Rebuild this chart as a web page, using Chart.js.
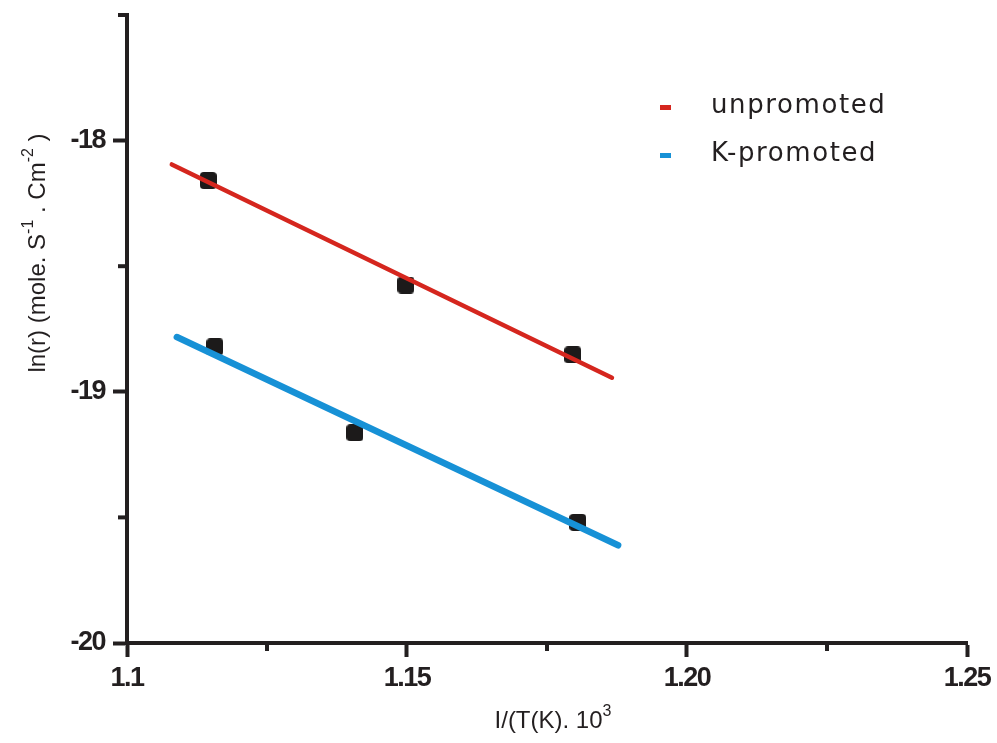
<!DOCTYPE html>
<html>
<head>
<meta charset="utf-8">
<script src="https://cdn.jsdelivr.net/npm/chart.js@4.4.1/dist/chart.umd.min.js"></script>
<style>
  html, body { margin: 0; padding: 0; background: #ffffff; }
  #wrap { width: 997px; height: 743px; }
</style>
</head>
<body>
<div id="wrap"><canvas id="arrhenius"></canvas></div>
<script>
// measured points
const xUnpromoted = [1.1145, 1.1498, 1.1796];
const yUnpromoted = [-18.159, -18.575, -18.853];
const xKPromoted = [1.1157, 1.1407, 1.1805];
const yKPromoted = [-18.821, -19.163, -19.520];

// fitted straight lines (end points)
const xFitUnpromoted = [1.1080, 1.1866];
const yFitUnpromoted = [-18.095, -18.944];
const xFitKPromoted = [1.1089, 1.1877];
const yFitKPromoted = [-18.782, -19.611];

const seriesLabels = ['unpromoted', 'K-promoted'];
const seriesColors = ['#d5261e', '#1791d6'];

// axes
const xTickValues = [1.1, 1.15, 1.2, 1.25];
const xTickLabels = ['1.1', '1.15', '1.20', '1.25'];
const xMinorTicks = [1.125, 1.175, 1.225];
const yTickValues = [-20, -19, -18];
const yTickLabels = ['-20', '-19', '-18'];
const yMinorTicks = [-19.5, -18.5, -17.5];

const INK = '#231f20';

const toPoints = (xs, ys) => xs.map((x, i) => ({ x: x, y: ys[i] }));

// rounded square marker
function makeMarker(size, radius) {
    const c = document.createElement('canvas');
    c.width = size; c.height = size;
    const g = c.getContext('2d');
    g.fillStyle = '#1c1a1a';
    g.beginPath();
    g.roundRect(0, 0, size, size, radius);
    g.fill();
    return c;
}
const marker = makeMarker(17, 4);

// tight bold tick labels
const spacingPlugin = {
    id: 'tickSpacing',
    beforeDraw(chart) { chart.ctx.letterSpacing = '-1.5px'; },
    afterDraw(chart) { chart.ctx.letterSpacing = '0px'; }
};

// short ticks for the in-between values
const minorTicksPlugin = {
    id: 'minorTicks',
    afterDraw(chart) {
        const ctx = chart.ctx;
        const xs = chart.scales.x, ys = chart.scales.y;
        const area = chart.chartArea;
        ctx.save();
        ctx.strokeStyle = INK;
        ctx.lineWidth = 4;
        xMinorTicks.forEach(v => {
            const px = xs.getPixelForValue(v);
            ctx.beginPath();
            ctx.moveTo(px, area.bottom);
            ctx.lineTo(px, area.bottom + 8);
            ctx.stroke();
        });
        yMinorTicks.forEach(v => {
            const py = ys.getPixelForValue(v);
            ctx.beginPath();
            ctx.moveTo(area.left, py);
            ctx.lineTo(area.left - 9, py);
            ctx.stroke();
        });
        ctx.restore();
    }
};

// text with raised parts, drawn left to right from (0,0)
function drawSupText(ctx, parts, size) {
    let x = 0;
    parts.forEach(p => {
        ctx.font = (p.sup ? Math.round(size * 0.68) : size) + 'px "Liberation Sans", Arial, sans-serif';
        ctx.fillText(p.t, x, p.sup ? -size * 0.5 : 0);
        x += ctx.measureText(p.t).width;
    });
    return x;
}
function measureSupText(ctx, parts, size) {
    let w = 0;
    parts.forEach(p => {
        ctx.font = (p.sup ? Math.round(size * 0.68) : size) + 'px "Liberation Sans", Arial, sans-serif';
        w += ctx.measureText(p.t).width;
    });
    return w;
}

const xTitleParts = [{ t: 'I/(T(K). 10' }, { t: '3', sup: true }];
const yTitleParts = [{ t: 'ln(r) (mole. S' }, { t: '-1', sup: true }, { t: ' . Cm' }, { t: '-2', sup: true }, { t: ' )' }];

const titlesPlugin = {
    id: 'axisTitles',
    afterDraw(chart) {
        const ctx = chart.ctx;
        const area = chart.chartArea;
        ctx.save();
        ctx.letterSpacing = '0px';
        ctx.fillStyle = INK;
        ctx.textBaseline = 'alphabetic';
        ctx.textAlign = 'left';
        const size = 24;
        // x title
        const wx = measureSupText(ctx, xTitleParts, size);
        ctx.save();
        ctx.translate(553 - wx / 2, 728);
        drawSupText(ctx, xTitleParts, size);
        ctx.restore();
        // y title
        const wy = measureSupText(ctx, yTitleParts, size);
        ctx.save();
        ctx.translate(45, 253 + wy / 2);
        ctx.rotate(-Math.PI / 2);
        drawSupText(ctx, yTitleParts, size);
        ctx.restore();
        ctx.restore();
    }
};

const legendPlugin = {
    id: 'insideLegend',
    afterDraw(chart) {
        const ctx = chart.ctx;
        ctx.save();
        ctx.font = '26px "DejaVu Sans", sans-serif';
        ctx.textBaseline = 'middle';
        ctx.letterSpacing = '1.6px';
        seriesLabels.forEach((label, i) => {
            const y = 106 + i * 48;
            ctx.fillStyle = seriesColors[i];
            ctx.fillRect(660, y - 1, 11, 5);
            ctx.fillStyle = INK;
            ctx.fillText(label, 711, y);
        });
        ctx.restore();
    }
};

const tickFont = { family: '"Liberation Sans", Arial, sans-serif', size: 27, weight: 'bold' };

new Chart(document.getElementById('arrhenius'), {
    type: 'scatter',
    data: {
        datasets: [
            {
                label: seriesLabels[0] + ' fit',
                data: toPoints(xFitUnpromoted, yFitUnpromoted),
                showLine: true,
                borderColor: seriesColors[0],
                borderWidth: 4.5,
                borderCapStyle: 'round',
                pointRadius: 0,
                order: 0
            },
            {
                label: seriesLabels[1] + ' fit',
                data: toPoints(xFitKPromoted, yFitKPromoted),
                showLine: true,
                borderColor: seriesColors[1],
                borderWidth: 6.5,
                borderCapStyle: 'round',
                pointRadius: 0,
                order: 0
            },
            {
                label: seriesLabels[0],
                data: toPoints(xUnpromoted, yUnpromoted),
                pointStyle: marker,
                pointRadius: 9,
                order: 2
            },
            {
                label: seriesLabels[1],
                data: toPoints(xKPromoted, yKPromoted),
                pointStyle: marker,
                pointRadius: 9,
                order: 2
            }
        ]
    },
    options: {
        responsive: true,
        maintainAspectRatio: false,
        animation: false,
        layout: { padding: { top: 15, right: 30, left: 0, bottom: 0 } },
        plugins: {
            legend: { display: false },
            tooltip: { enabled: false }
        },
        scales: {
            x: {
                type: 'linear',
                min: 1.1,
                max: 1.25,
                afterBuildTicks: s => { s.ticks = xTickValues.map(v => ({ value: v })); },
                afterFit: s => { s.height = 100; s.paddingLeft = 0; s.paddingRight = 0; },
                grid: {
                    drawOnChartArea: false,
                    drawTicks: true,
                    tickLength: 14,
                    tickWidth: 4,
                    tickColor: INK
                },
                border: { display: true, color: INK, width: 4 },
                ticks: {
                    color: INK,
                    font: tickFont,
                    padding: 5,
                    maxRotation: 0,
                    callback: v => xTickLabels[xTickValues.findIndex(t => Math.abs(t - v) < 1e-6)]
                }
            },
            y: {
                type: 'linear',
                min: -20,
                max: -17.5,
                afterBuildTicks: s => { s.ticks = yTickValues.map(v => ({ value: v })); },
                afterFit: s => { s.width = 127; s.paddingTop = 0; s.paddingBottom = 0; },
                grid: {
                    drawOnChartArea: false,
                    drawTicks: true,
                    tickLength: 14,
                    tickWidth: 4,
                    tickColor: INK
                },
                border: { display: true, color: INK, width: 4 },
                ticks: {
                    color: INK,
                    font: tickFont,
                    padding: 8,
                    callback: v => yTickLabels[yTickValues.findIndex(t => Math.abs(t - v) < 1e-6)]
                }
            }
        }
    },
    plugins: [spacingPlugin, minorTicksPlugin, titlesPlugin, legendPlugin]
});
</script>
</body>
</html>
